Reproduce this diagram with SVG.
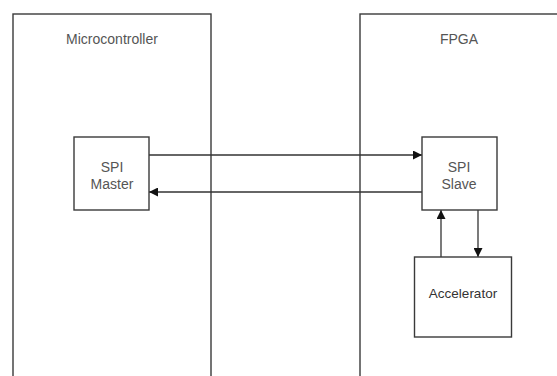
<svg xmlns="http://www.w3.org/2000/svg" width="557" height="376" viewBox="0 0 557 376">
  <style>
    .box { fill: #ffffff; stroke: #3a3a3a; stroke-width: 1.4; }
    .lbl { font-family: "Liberation Sans", Arial, sans-serif; font-size: 14px; fill: #555555; text-anchor: middle; }
    .lbl.dark { fill: #333333; font-size: 13.5px; }
    .wire { fill: none; stroke: #333333; stroke-width: 1.3; }
  </style>
  <defs>
    <marker id="arrow" viewBox="0 0 10 10" refX="10" refY="5" markerWidth="9" markerHeight="9" markerUnits="userSpaceOnUse" orient="auto">
      <path d="M0,0 L10,5 L0,10 z" fill="#111111"/>
    </marker>
  </defs>
  <rect width="557" height="376" fill="#ffffff"/>

  <g id="microcontroller">
    <rect class="box" x="13" y="14" width="198" height="380"/>
    <text class="lbl" x="112" y="44">Microcontroller</text>
  </g>

  <g id="fpga">
    <rect class="box" x="360" y="14" width="220" height="380"/>
    <text class="lbl" x="459" y="44">FPGA</text>
  </g>

  <g id="connectors">
    <line class="wire" x1="149" y1="155" x2="422" y2="155" marker-end="url(#arrow)"/>
    <line class="wire" x1="422" y1="192" x2="149" y2="192" marker-end="url(#arrow)"/>
    <line class="wire" x1="441" y1="257" x2="441" y2="210" marker-end="url(#arrow)"/>
    <line class="wire" x1="478" y1="210" x2="478" y2="257" marker-end="url(#arrow)"/>
  </g>

  <g id="spi-master">
    <rect class="box" x="74" y="137" width="75" height="73"/>
    <text class="lbl" x="112" y="172">SPI</text>
    <text class="lbl" x="112" y="189">Master</text>
  </g>

  <g id="spi-slave">
    <rect class="box" x="422" y="137" width="75" height="73"/>
    <text class="lbl" x="459" y="172">SPI</text>
    <text class="lbl" x="459" y="189">Slave</text>
  </g>

  <g id="accelerator">
    <rect class="box" x="414.5" y="257" width="97" height="80"/>
    <text class="lbl dark" x="463" y="298">Accelerator</text>
  </g>
</svg>
